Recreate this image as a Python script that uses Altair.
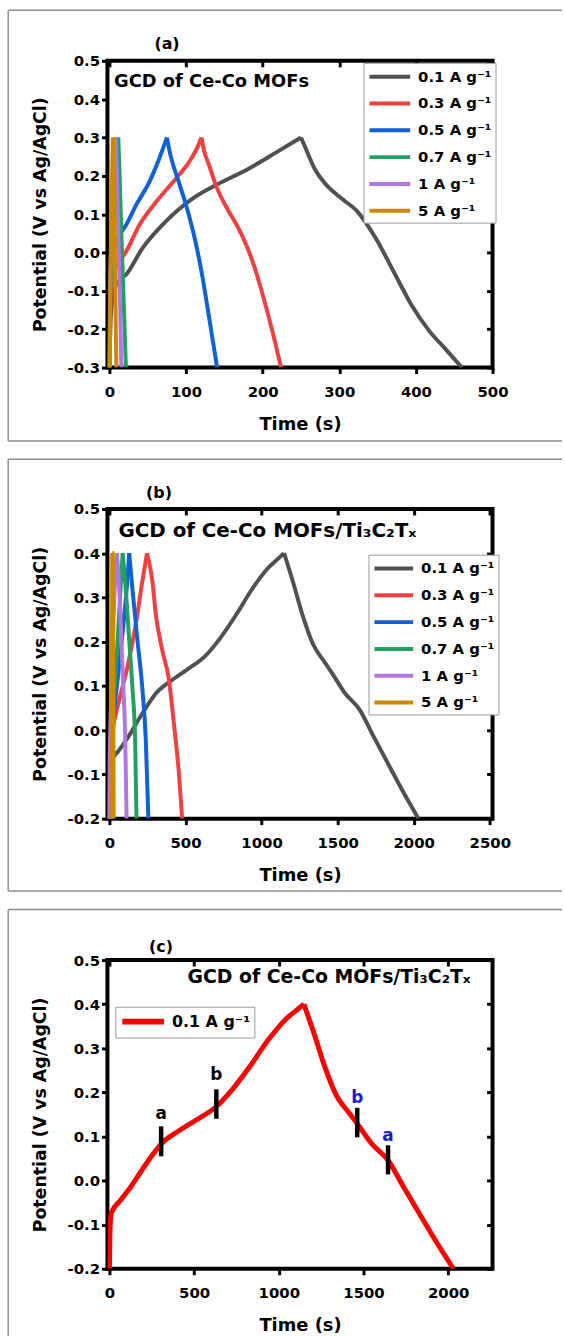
import altair as alt
import pandas as pd

FONT = "DejaVu Sans"
BORDER = "#8c8c8c"

series_labels = ["0.1 A g⁻¹", "0.3 A g⁻¹", "0.5 A g⁻¹", "0.7 A g⁻¹", "1 A g⁻¹", "5 A g⁻¹"]
series_colors = ["#515151", "#F14040", "#1060D8", "#22A062", "#B177DE", "#CC8A00"]

# ---------- panel (a): Ce-Co MOFs ----------
a01_t = [0, 2, 6, 12, 21.6, 43, 73, 108, 138, 181, 215, 250, 256.5, 268, 282, 301, 324, 347.6, 371, 394, 417.6, 441, 460]
a01_v = [-0.3, -0.16, -0.1, -0.075, -0.058, 0.011, 0.08, 0.14, 0.175, 0.218, 0.258, 0.30, 0.27, 0.218, 0.179, 0.144, 0.106, 0.037, -0.05, -0.136, -0.205, -0.257, -0.3]
a03_t = [0, 1.5, 6, 14, 21.6, 38.9, 60.5, 86.4, 103.6, 115, 120, 124, 130, 140, 155, 168, 178, 188, 200, 212, 224]
a03_v = [-0.3, -0.12, -0.05, -0.02, 0.002, 0.071, 0.131, 0.192, 0.235, 0.275, 0.30, 0.262, 0.228, 0.17, 0.11, 0.065, 0.022, -0.03, -0.11, -0.2, -0.3]
a05_t = [0, 1, 5, 12, 21.6, 34.6, 51.8, 64.8, 75, 79.9, 90.7, 101.4, 112.3, 120.9, 129.5, 140.5]
a05_v = [-0.3, -0.1, 0.0, 0.04, 0.071, 0.123, 0.183, 0.244, 0.30, 0.252, 0.183, 0.114, 0.028, -0.058, -0.162, -0.3]
a07_t = [0, 1, 4, 8, 11.5, 13, 16, 19, 21.5]
a07_v = [-0.3, -0.1, 0.05, 0.2, 0.3, 0.22, 0.02, -0.15, -0.3]
a1_t = [0, 0.8, 3, 6, 8, 9.5, 12, 14, 15.5]
a1_v = [-0.3, -0.1, 0.05, 0.2, 0.3, 0.22, 0.02, -0.15, -0.3]
a5_t = [0.5, 1.2, 2.5, 4.5, 6, 7, 8, 9]
a5_v = [-0.3, -0.1, 0.1, 0.3, 0.22, 0.02, -0.15, -0.3]

# ---------- panel (b)/(c): Ce-Co MOFs/Ti3C2Tx ----------
b01_t = [0, 4, 12, 60, 115, 220, 305, 410, 515, 631, 726, 831, 936, 1041, 1100, 1148, 1210, 1273, 1336, 1420, 1463, 1547, 1645, 1736, 1841, 1946, 2031]
b01_v = [-0.2, -0.1, -0.072, -0.047, -0.02, 0.04, 0.083, 0.113, 0.138, 0.168, 0.207, 0.26, 0.318, 0.366, 0.385, 0.40, 0.331, 0.256, 0.196, 0.151, 0.129, 0.084, 0.046, -0.014, -0.082, -0.149, -0.2]
b03_t = [0, 3, 21, 65, 119, 174, 217, 247, 282, 304, 347, 391, 423, 456, 478]
b03_v = [-0.2, -0.05, 0.0, 0.069, 0.144, 0.241, 0.338, 0.40, 0.338, 0.264, 0.181, 0.114, 0.017, -0.095, -0.2]
b05_t = [0, 3, 33, 65, 95, 118, 130, 152, 184, 217, 239, 256]
b05_v = [-0.2, -0.05, 0.05, 0.15, 0.25, 0.34, 0.40, 0.316, 0.204, 0.092, -0.021, -0.2]
b07_t = [0, 3, 25, 50, 75, 87, 108, 130, 152, 169, 178]
b07_v = [-0.2, -0.05, 0.05, 0.18, 0.33, 0.40, 0.316, 0.204, 0.092, -0.021, -0.2]
b1_t = [0, 3, 15, 32, 50, 70, 87, 104, 113]
b1_v = [-0.2, -0.05, 0.1, 0.3, 0.40, 0.279, 0.129, -0.021, -0.2]
b5_t = [12, 16, 19, 22, 25, 28]
b5_v = [-0.2, 0.1, 0.4, 0.4, 0.1, -0.2]

# ---------- panel (c) markers ----------
mk_t = [305, 631, 1463, 1645]
mk_lo = [0.055, 0.140, 0.098, 0.014]
mk_hi = [0.123, 0.207, 0.165, 0.080]
mk_lab_v = [0.150, 0.240, 0.188, 0.100]
mk_lab = ["a", "b", "b", "a"]
mk_col = ["black", "black", "#1a1acc", "#1a1acc"]

notes = ["GCD of Ce-Co MOFs", "GCD of Ce-Co MOFs/Ti₃C₂Tₓ", "GCD of Ce-Co MOFs/Ti₃C₂Tₓ"]
note_t = [6, 59, 461]
note_v = [0.444, 0.451, 0.462]
tags = ["(a)", "(b)", "(c)"]

a_x_ticks = [0, 100, 200, 300, 400, 500]
b_x_ticks = [0, 500, 1000, 1500, 2000, 2500]
c_x_ticks = [0, 500, 1000, 1500, 2000]
a_y_ticks = [-0.3, -0.2, -0.1, 0.0, 0.1, 0.2, 0.3, 0.4, 0.5]
b_y_ticks = [-0.2, -0.1, 0.0, 0.1, 0.2, 0.3, 0.4, 0.5]

Y_LABEL = "datum.value < 0 ? '-' + format(-datum.value, '.1f') : format(datum.value, '.1f')"


def series_df(pairs, labels):
    rows = []
    for (ts, vs), lab in zip(pairs, labels):
        peak = max(range(len(vs)), key=lambda k: vs[k])
        for i, (t, v) in enumerate(zip(ts, vs)):
            if i <= peak:
                rows.append({"series": lab, "seg": "charge", "t": t, "v": v, "i": i})
            if i >= peak:
                rows.append({"series": lab, "seg": "discharge", "t": t, "v": v, "i": i})
    return pd.DataFrame(rows)


def frame(top, bottom, with_bottom=True):
    one = pd.DataFrame({"k": [0]})
    base = alt.Chart(one)
    out = [
        base.mark_rule(color=BORDER, strokeWidth=1.5).encode(
            x=alt.value(-100), x2=alt.value(458), y=alt.value(top)),
        base.mark_rule(color=BORDER, strokeWidth=1.5).encode(
            x=alt.value(-100), y=alt.value(top), y2=alt.value(bottom)),
    ]
    if with_bottom:
        out.append(base.mark_rule(color=BORDER, strokeWidth=1.5).encode(
            x=alt.value(-100), x2=alt.value(458), y=alt.value(bottom)))
    return out


def panel(df, labels, colors, xdom, xticks, ydom, yticks, h, lw, leg, idx,
          note_size, tag_xy, top, bottom, with_bottom=True, extra=None):
    xs = alt.Scale(domain=xdom, nice=False, zero=False)
    ys = alt.Scale(domain=ydom, nice=False, zero=False)
    lines = alt.Chart(df).mark_line(strokeWidth=lw, clip=True, interpolate="monotone").encode(
        x=alt.X("t:Q", scale=xs, axis=alt.Axis(
            values=xticks, title="Time (s)", format="d", orient="bottom",
            tickSize=6, tickWidth=3, labelPadding=11, titlePadding=16,
            labelFlush=False, labelOverlap=False, domain=False, grid=False)),
        y=alt.Y("v:Q", scale=ys, axis=alt.Axis(
            values=yticks, title="Potential (V vs Ag/AgCl)", labelExpr=Y_LABEL, orient="left",
            tickSize=6, tickWidth=3, labelPadding=2, titlePadding=18,
            labelFlush=False, labelOverlap=False, domain=False, grid=False)),
        color=alt.Color("series:N", scale=alt.Scale(domain=labels, range=colors),
                        legend=alt.Legend(**leg)),
        detail="seg:N",
        order="i:Q",
    )
    ticks = alt.Chart(df).mark_line(opacity=0).encode(
        x=alt.X("t:Q", axis=alt.Axis(orient="top", values=xticks, labels=False, title=None,
                                     tickSize=6, tickWidth=3, offset=-6, domain=False, grid=False)),
        y=alt.Y("v:Q", axis=alt.Axis(orient="right", values=yticks, labels=False, title=None,
                                     tickSize=6, tickWidth=3, offset=-6, domain=False, grid=False)),
    )
    ndf = pd.DataFrame({"t": [note_t[idx]], "v": [note_v[idx]], "s": [notes[idx]]})
    note = alt.Chart(ndf).mark_text(align="left", baseline="middle", font=FONT,
                                    fontWeight="bold", fontSize=note_size, color="black").encode(
        x=alt.X("t:Q", axis=None), y=alt.Y("v:Q", axis=None), text="s:N")
    tdf = pd.DataFrame({"s": [tags[idx]]})
    tag = alt.Chart(tdf).mark_text(align="center", baseline="middle", font=FONT,
                                   fontWeight="bold", fontSize=16, color="black").encode(
        x=alt.value(tag_xy[0]), y=alt.value(tag_xy[1]), text="s:N")
    layers = frame(top, bottom, with_bottom) + [lines, note, tag] + (extra or []) + [ticks]
    return alt.layer(*layers).resolve_axis(x="independent", y="independent").properties(
        width=388, height=h)


def leg_opts(x, y, length, sw, fs, rowpad, pad, gap):
    d = 16.0
    k = 2.0 * length / d - 1.0
    return dict(orient="none", legendX=x, legendY=y, title=None,
                symbolType="M-1,0H%.4f" % k,
                symbolSize=d * d, symbolStrokeWidth=sw, labelFontSize=fs,
                labelFont=FONT, labelFontWeight="bold", labelColor="black",
                labelOffset=length - d + gap, rowPadding=rowpad, padding=pad,
                strokeColor="#9a9a9a", fillColor="white", symbolOpacity=1)


df_a = series_df([(a01_t, a01_v), (a03_t, a03_v), (a05_t, a05_v), (a07_t, a07_v),
                  (a1_t, a1_v), (a5_t, a5_v)], series_labels)
df_b = series_df([(b01_t, b01_v), (b03_t, b03_v), (b05_t, b05_v), (b07_t, b07_v),
                  (b1_t, b1_v), (b5_t, b5_v)], series_labels)
df_c = series_df([(b01_t, b01_v)], [series_labels[0]])

pa = panel(df_a, series_labels, series_colors, [-2.6, 500], a_x_ticks, [-0.3, 0.5], a_y_ticks,
           309, 4, leg_opts(258, 2, 41, 4, 15, 9, 4, 6), 0, 18, (60, -17), -51, 383)
pb = panel(df_b, series_labels, series_colors, [-13, 2518], b_x_ticks, [-0.2, 0.5], b_y_ticks,
           312, 4, leg_opts(263, 46, 39, 4, 15, 9, 4, 6), 1, 20, (52, -16), -50, 385)

mk_df = pd.DataFrame({"t": mk_t, "lo": mk_lo, "hi": mk_hi, "lv": mk_lab_v, "lab": mk_lab, "col": mk_col})
bars = alt.Chart(mk_df).mark_rule(strokeWidth=4.5, color="black").encode(
    x=alt.X("t:Q", axis=None), y=alt.Y("lo:Q", axis=None), y2="hi:Q")
bar_txt = alt.Chart(mk_df).mark_text(font=FONT, fontWeight="bold", fontSize=17,
                                     align="center", baseline="middle").encode(
    x=alt.X("t:Q", axis=None), y=alt.Y("lv:Q", axis=None), text="lab:N",
    color=alt.Color("col:N", scale=None))

pc = panel(df_c, [series_labels[0]], ["#ff0000"], [-12, 2262], c_x_ticks, [-0.2, 0.5], b_y_ticks,
           311, 5, leg_opts(8, 47, 42, 6, 16, 10, 4, 5), 2, 19, (54, -13), -51, 380,
           with_bottom=False, extra=[bars, bar_txt])

chart = alt.vconcat(pa, pb, pc, spacing=12.5).resolve_scale(
    color="independent").resolve_legend(color="independent").properties(
    padding={"left": 5.25, "top": 2.25, "right": 0, "bottom": 0},
    background="white",
).configure_view(stroke="black", strokeWidth=4).configure_axis(
    labelFont=FONT, labelFontSize=15, labelFontWeight="bold", labelColor="black",
    titleFont=FONT, titleFontWeight="bold", titleColor="black", tickColor="black",
).configure_axisX(titleFontSize=18).configure_axisY(titleFontSize=17.5)

chart.save("out.html", embed_options={"renderer": "svg", "actions": False})
